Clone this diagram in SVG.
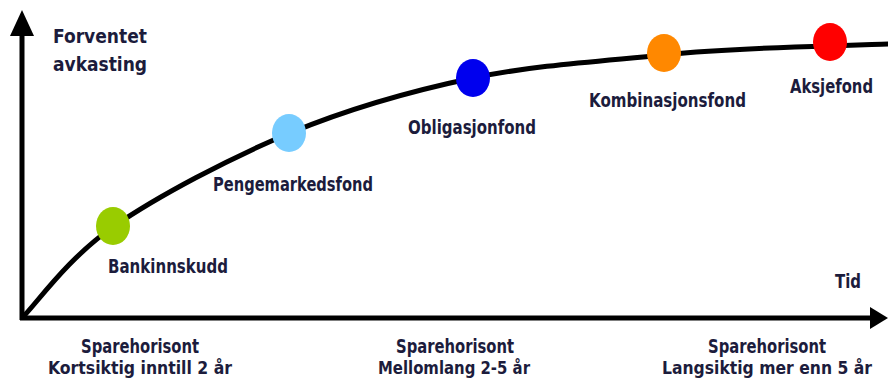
<svg xmlns="http://www.w3.org/2000/svg" width="888" height="380" viewBox="0 0 888 380">
<style>
text{font-family:"DejaVu Sans Condensed","DejaVu Sans",sans-serif;font-weight:bold;font-size:19px;fill:#1c1c3c}
.c{text-anchor:middle}
.s{font-size:18px}
</style>
<rect width="888" height="380" fill="#fff"/>
<g id="axes">
<line x1="22" y1="320" x2="22" y2="32" stroke="#000" stroke-width="5"/>
<polygon points="22,10 10,36 34,36" fill="#000"/>
<line x1="20" y1="318" x2="872" y2="318" stroke="#000" stroke-width="5"/>
<polygon points="888,318 870,307 870,329" fill="#000"/>
</g>
<g id="connectors">
<path d="M22,318 C37,303 68,258 113,227 C157.7,196.2 230,158 290,133 C350,108.2 411,91 473,78 C535,65 603.5,61 663,55 C722.5,49 792.5,47 830,46 C867.5,45 878,44 888,44" fill="none" stroke="#000" stroke-width="5"/>
</g>
<g id="bankinnskudd"><ellipse cx="113" cy="226" rx="17" ry="19" fill="#99cc00"/><text x="108" y="273" textLength="120" lengthAdjust="spacingAndGlyphs">Bankinnskudd</text></g>
<g id="pengemarkedsfond"><ellipse cx="289" cy="133" rx="17" ry="19" fill="#77ccff"/><text x="213" y="191" textLength="160" lengthAdjust="spacingAndGlyphs">Pengemarkedsfond</text></g>
<g id="obligasjonfond"><ellipse cx="473" cy="78" rx="17" ry="19" fill="#0000ee"/><text x="408" y="134" textLength="128" lengthAdjust="spacingAndGlyphs">Obligasjonfond</text></g>
<g id="kombinasjonsfond"><ellipse cx="664" cy="53" rx="17" ry="19" fill="#ff8800"/><text x="589" y="107" textLength="157" lengthAdjust="spacingAndGlyphs">Kombinasjonsfond</text></g>
<g id="aksjefond"><ellipse cx="830" cy="42" rx="17" ry="19" fill="#ff0000"/><text x="790" y="93" textLength="83" lengthAdjust="spacingAndGlyphs">Aksjefond</text></g>
<g id="labels">
<text x="53" y="43" textLength="94" lengthAdjust="spacingAndGlyphs">Forventet</text>
<text x="53" y="71" textLength="94" lengthAdjust="spacingAndGlyphs">avkasting</text>
<text x="835" y="288" textLength="26" lengthAdjust="spacingAndGlyphs">Tid</text>
<text class="c" x="140" y="353" textLength="118" lengthAdjust="spacingAndGlyphs">Sparehorisont</text>
<text class="c s" x="140" y="374" textLength="184" lengthAdjust="spacingAndGlyphs">Kortsiktig inntill 2 år</text>
<text class="c" x="455" y="353" textLength="118" lengthAdjust="spacingAndGlyphs">Sparehorisont</text>
<text class="c s" x="454" y="374" textLength="152" lengthAdjust="spacingAndGlyphs">Mellomlang 2-5 år</text>
<text class="c" x="767" y="353" textLength="118" lengthAdjust="spacingAndGlyphs">Sparehorisont</text>
<text class="c s" x="767" y="374" textLength="210" lengthAdjust="spacingAndGlyphs">Langsiktig mer enn 5 år</text>
</g>
</svg>
